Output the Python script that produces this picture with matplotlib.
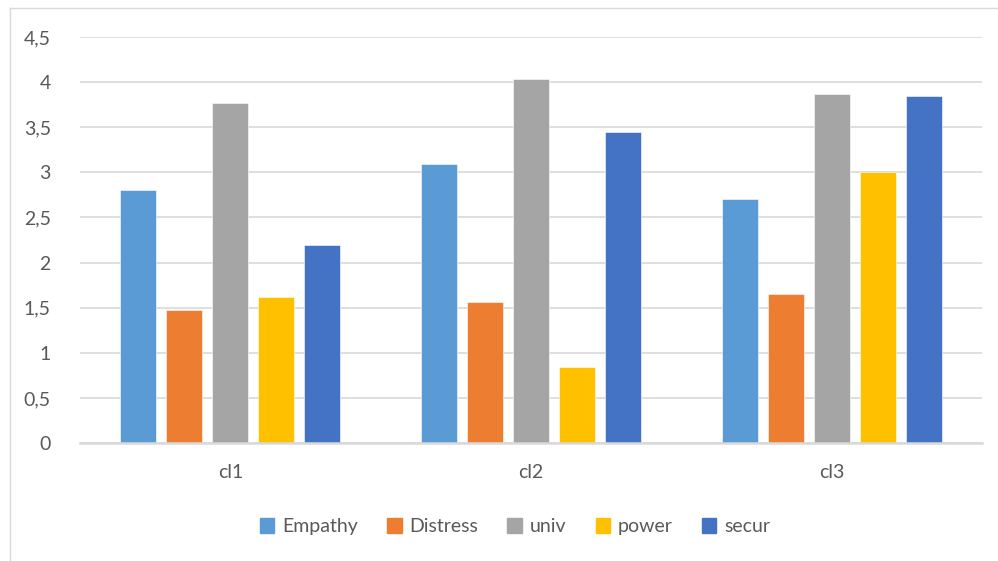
import matplotlib.pyplot as plt
import numpy as np
from matplotlib.lines import Line2D

plt.rcParams['font.family'] = ['Lato', 'DejaVu Sans']

# mean scores per cluster
clusters = ['cl1', 'cl2', 'cl3']
empathy = [2.80, 3.09, 2.70]
distress = [1.47, 1.56, 1.65]
univ = [3.77, 4.03, 3.87]
power = [1.62, 0.84, 3.00]
secur = [2.20, 3.45, 3.85]

series_names = ['Empathy', 'Distress', 'univ', 'power', 'secur']
colors = ['#5B9BD5', '#ED7D31', '#A5A5A5', '#FFC000', '#4472C4']

yticks = [0, 0.5, 1, 1.5, 2, 2.5, 3, 3.5, 4, 4.5]
ytick_labels = ['0', '0,5', '1', '1,5', '2', '2,5', '3', '3,5', '4', '4,5']

text_color = '#595959'
grid_color = '#d9d9d9'

fig = plt.figure(figsize=(9.98, 5.61), dpi=100)
ax = fig.add_axes([0.0802, 0.2103, 0.9038, 0.7237])

x = np.arange(len(clusters))
width = 0.12
step = 0.153
all_series = [empathy, distress, univ, power, secur]
for i, (vals, name, c) in enumerate(zip(all_series, series_names, colors)):
    offset = (i - 2) * step
    ax.bar(x + offset, vals, width, color=c, label=name, zorder=3,
           edgecolor='white', linewidth=0.4)

ax.set_xlim(-0.5, 2.5)
ax.set_ylim(0, 4.5)
ax.set_yticks(yticks)
ax.set_yticklabels(ytick_labels)
ax.set_xticks(x)
ax.set_xticklabels(clusters)

ax.grid(axis='y', color=grid_color, linewidth=1.2, zorder=0)
for side in ['top', 'right', 'left']:
    ax.spines[side].set_visible(False)
ax.spines['bottom'].set_color(grid_color)
ax.spines['bottom'].set_linewidth(1.8)
ax.spines['bottom'].set_zorder(4)

ax.tick_params(axis='both', length=0, labelsize=14, colors=text_color)
ax.tick_params(axis='x', pad=15)
ax.tick_params(axis='y', pad=21)

handles = [plt.Rectangle((0, 0), 1, 1, color=c) for c in colors]
fig.legend(handles, series_names, loc='center', bbox_to_anchor=(0.516, 0.061),
           ncol=5, frameon=False, fontsize=14, labelcolor=text_color,
           handlelength=0.75, handleheight=0.75, handletextpad=0.4,
           columnspacing=1.5)

# chart area border
fig.add_artist(Line2D([9.5 / 998, 9.5 / 998], [0, 1 - 7.5 / 561],
                      transform=fig.transFigure, color=grid_color, linewidth=1))
fig.add_artist(Line2D([9.5 / 998, 1], [1 - 7.5 / 561, 1 - 7.5 / 561],
                      transform=fig.transFigure, color=grid_color, linewidth=1))

plt.savefig('out.png', dpi=100)
